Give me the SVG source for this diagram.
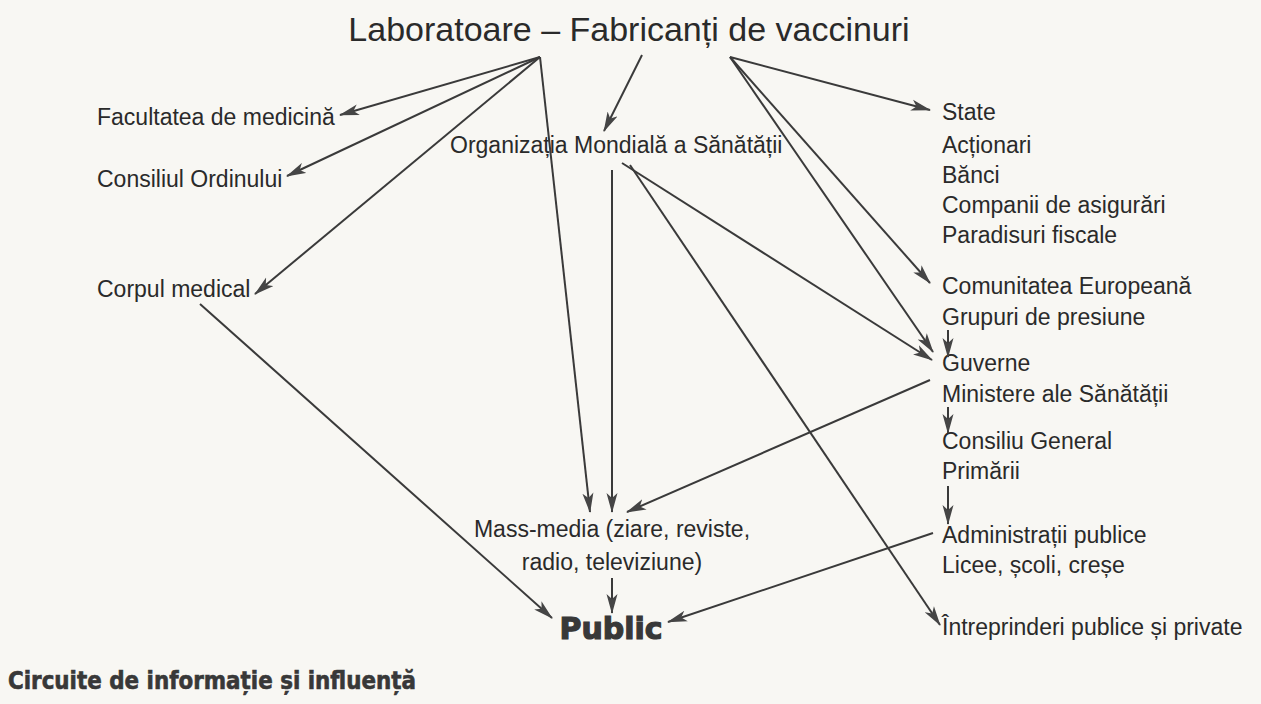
<svg xmlns="http://www.w3.org/2000/svg" width="1261" height="704" viewBox="0 0 1261 704">
<defs>
<marker id="ah" markerUnits="userSpaceOnUse" markerWidth="22" markerHeight="12" refX="19" refY="6" orient="auto">
<path d="M0,0.5 L20,6 L0,11.5 L5,6 z" fill="#454545"/>
</marker>
<style>
.t{font-family:"Liberation Sans",Arial,sans-serif;font-size:23px;fill:#2a2a2a}
.c{stroke:#3a3a3a;stroke-width:2;fill:none;marker-end:url(#ah)}
</style>
</defs>
<rect width="1261" height="704" fill="#f8f7f3"/>
<g id="title"><text x="629" y="41" text-anchor="middle" font-family="Liberation Sans, Arial, sans-serif" font-size="34" fill="#2a2a2a">Laboratoare – Fabricanți de vaccinuri</text></g>
<g id="facultatea"><text class="t" x="97" y="125">Facultatea de medicină</text></g>
<g id="consiliul-ordinului"><text class="t" x="97" y="187">Consiliul Ordinului</text></g>
<g id="corpul-medical"><text class="t" x="97" y="297">Corpul medical</text></g>
<g id="oms"><text class="t" x="450" y="153">Organizația Mondială a Sănătății</text></g>
<g id="state"><text class="t" x="942" y="120">State</text><text class="t" x="942" y="153">Acționari</text><text class="t" x="942" y="183">Bănci</text><text class="t" x="942" y="213">Companii de asigurări</text><text class="t" x="942" y="243">Paradisuri fiscale</text></g>
<g id="comunitatea"><text class="t" x="942" y="294">Comunitatea Europeană</text><text class="t" x="942" y="325">Grupuri de presiune</text></g>
<g id="guverne"><text class="t" x="942" y="371">Guverne</text><text class="t" x="942" y="402">Ministere ale Sănătății</text></g>
<g id="consiliu-general"><text class="t" x="942" y="449">Consiliu General</text><text class="t" x="942" y="479">Primării</text></g>
<g id="administratii"><text class="t" x="942" y="543">Administrații publice</text><text class="t" x="942" y="573">Licee, școli, creșe</text></g>
<g id="intreprinderi"><text class="t" x="942" y="635">Întreprinderi publice și private</text></g>
<g id="mass-media"><text class="t" x="612" y="537" text-anchor="middle">Mass-media (ziare, reviste,</text><text class="t" x="612" y="570" text-anchor="middle">radio, televiziune)</text></g>
<g id="public"><text x="611" y="639" text-anchor="middle" font-family="DejaVu Sans, sans-serif" font-weight="bold" font-size="30" fill="#383838" stroke="#383838" stroke-width="1.2">Public</text></g>
<g id="caption"><text x="8" y="689" font-family="DejaVu Sans Condensed, DejaVu Sans, sans-serif" font-weight="bold" font-size="25" fill="#383838" stroke="#383838" stroke-width="0.6" textLength="408" lengthAdjust="spacingAndGlyphs">Circuite de informație și influență</text></g>
<g id="connectors">
<line class="c" x1="540" y1="57" x2="340" y2="115"/>
<line class="c" x1="540" y1="57" x2="287" y2="176"/>
<line class="c" x1="540" y1="57" x2="255" y2="294"/>
<line class="c" x1="540" y1="57" x2="590" y2="512"/>
<line class="c" x1="642" y1="55" x2="604" y2="131"/>
<line class="c" x1="730" y1="57" x2="930" y2="110"/>
<line class="c" x1="730" y1="57" x2="930" y2="283"/>
<line class="c" x1="730" y1="57" x2="933" y2="352"/>
<line class="c" x1="622" y1="163" x2="932" y2="360"/>
<line class="c" x1="630" y1="165" x2="940" y2="625"/>
<line class="c" x1="612" y1="170" x2="612" y2="512"/>
<line class="c" x1="930" y1="380" x2="627" y2="512"/>
<line class="c" x1="948" y1="330" x2="948" y2="357"/>
<line class="c" x1="948" y1="407" x2="948" y2="433"/>
<line class="c" x1="948" y1="486" x2="948" y2="524"/>
<line class="c" x1="933" y1="533" x2="668" y2="622"/>
<line class="c" x1="200" y1="304" x2="552" y2="618"/>
<line class="c" x1="612" y1="578" x2="612" y2="613"/>
</g>
</svg>
